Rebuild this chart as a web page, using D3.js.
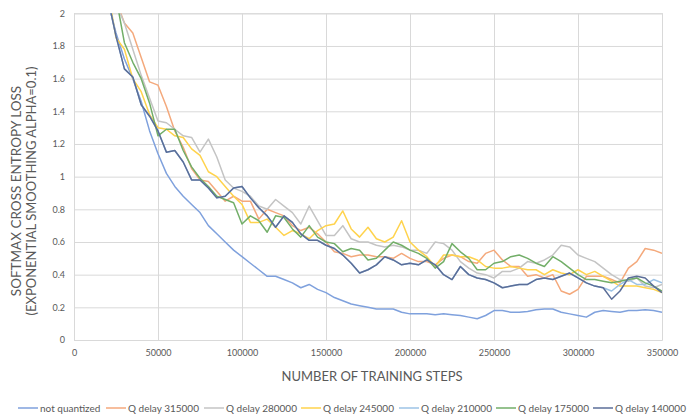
<!DOCTYPE html>
<html>
<head>
<meta charset="utf-8">
<script src="https://cdn.jsdelivr.net/npm/d3@7"></script>
<style>
  body { margin: 0; background: #fff; }
  svg text { font-family: Lato, "Open Sans", sans-serif; fill: #595959; }
</style>
</head>
<body>
<svg id="chart" width="691" height="418"></svg>
<script>
// training steps sampled every 5000
var steps = d3.range(20000, 350001, 5000);

var notQuantized = [
  2.08, 1.88, 1.72, 1.60, 1.46, 1.28, 1.14, 1.02, 0.94, 0.88,
  0.83, 0.78, 0.70, 0.65, 0.60, 0.55, 0.51, 0.47, 0.43, 0.39,
  0.39, 0.37, 0.35, 0.32, 0.34, 0.31, 0.29, 0.26, 0.24, 0.22,
  0.21, 0.20, 0.19, 0.19, 0.19, 0.17, 0.16, 0.16, 0.16, 0.155,
  0.16, 0.155, 0.15, 0.14, 0.13, 0.15, 0.18, 0.18, 0.17, 0.17,
  0.175, 0.185, 0.19, 0.19, 0.17, 0.16, 0.15, 0.14, 0.17, 0.18,
  0.175, 0.17, 0.18, 0.18, 0.185, 0.18, 0.17
];
var qDelay315000 = [
  2.40, 2.08, 1.94, 1.88, 1.73, 1.58, 1.56, 1.43, 1.28, 1.18,
  1.05, 0.98, 0.97, 0.91, 0.85, 0.88, 0.85, 0.85, 0.74, 0.80,
  0.78, 0.76, 0.70, 0.67, 0.69, 0.65, 0.60, 0.54, 0.53, 0.51,
  0.52, 0.52, 0.51, 0.51, 0.50, 0.53, 0.50, 0.48, 0.48, 0.46,
  0.50, 0.52, 0.51, 0.48, 0.47, 0.53, 0.55, 0.49, 0.45, 0.45,
  0.39, 0.40, 0.38, 0.40, 0.30, 0.28, 0.31, 0.39, 0.39, 0.39,
  0.37, 0.35, 0.44, 0.48, 0.56, 0.55, 0.53
];
var qDelay280000 = [
  2.30, 2.06, 1.94, 1.78, 1.62, 1.48, 1.34, 1.33, 1.29, 1.25,
  1.24, 1.15, 1.23, 1.12, 0.98, 0.93, 0.91, 0.88, 0.82, 0.80,
  0.86, 0.82, 0.78, 0.71, 0.82, 0.73, 0.64, 0.64, 0.70, 0.62,
  0.60, 0.60, 0.58, 0.57, 0.58, 0.57, 0.55, 0.55, 0.53, 0.60,
  0.59, 0.55, 0.48, 0.44, 0.41, 0.40, 0.38, 0.42, 0.42, 0.44,
  0.48, 0.47, 0.49, 0.52, 0.58, 0.57, 0.52, 0.50, 0.48, 0.44,
  0.40, 0.37, 0.36, 0.38, 0.33, 0.32, 0.34
];
var qDelay245000 = [
  2.15, 1.85, 1.78, 1.60, 1.52, 1.38, 1.30, 1.29, 1.25, 1.24,
  1.17, 1.13, 1.03, 1.00, 0.94, 0.88, 0.83, 0.72, 0.72, 0.74,
  0.69, 0.64, 0.67, 0.65, 0.62, 0.67, 0.70, 0.71, 0.79, 0.68,
  0.63, 0.69, 0.62, 0.60, 0.63, 0.73, 0.60, 0.55, 0.51, 0.45,
  0.52, 0.52, 0.51, 0.51, 0.49, 0.45, 0.44, 0.44, 0.45, 0.44,
  0.43, 0.43, 0.40, 0.43, 0.41, 0.40, 0.43, 0.40, 0.42, 0.39,
  0.36, 0.33, 0.33, 0.33, 0.32, 0.31, 0.29
];
var qDelay210000 = [
  2.10, 1.86, 1.66, 1.61, 1.44, 1.37, 1.28, 1.15, 1.16, 1.09,
  0.98, 0.98, 0.93, 0.87, 0.88, 0.93, 0.94, 0.87, 0.81, 0.76,
  0.69, 0.76, 0.72, 0.65, 0.61, 0.61, 0.58, 0.56, 0.52, 0.47,
  0.41, 0.43, 0.46, 0.51, 0.49, 0.46, 0.47, 0.46, 0.49, 0.46,
  0.40, 0.37, 0.45, 0.40, 0.38, 0.37, 0.35, 0.32, 0.33, 0.34,
  0.34, 0.37, 0.38, 0.37, 0.39, 0.41, 0.38, 0.35, 0.33, 0.32,
  0.30, 0.34, 0.37, 0.34, 0.34, 0.37, 0.35
];
var qDelay175000 = [
  2.40, 2.10, 1.82, 1.70, 1.60, 1.45, 1.25, 1.29, 1.29, 1.16,
  1.06, 0.99, 0.94, 0.88, 0.86, 0.84, 0.71, 0.76, 0.73, 0.66,
  0.76, 0.75, 0.68, 0.63, 0.70, 0.63, 0.60, 0.59, 0.54, 0.56,
  0.55, 0.49, 0.50, 0.55, 0.60, 0.58, 0.55, 0.53, 0.50, 0.44,
  0.48, 0.59, 0.54, 0.50, 0.43, 0.43, 0.47, 0.48, 0.51, 0.52,
  0.50, 0.47, 0.45, 0.51, 0.48, 0.44, 0.40, 0.37, 0.37, 0.36,
  0.35, 0.36, 0.37, 0.38, 0.35, 0.33, 0.30
];
var qDelay140000 = [
  2.10, 1.86, 1.66, 1.61, 1.44, 1.37, 1.28, 1.15, 1.16, 1.09,
  0.98, 0.98, 0.93, 0.87, 0.88, 0.93, 0.94, 0.87, 0.81, 0.76,
  0.69, 0.76, 0.72, 0.65, 0.61, 0.61, 0.58, 0.56, 0.52, 0.47,
  0.41, 0.43, 0.46, 0.51, 0.49, 0.46, 0.47, 0.46, 0.49, 0.46,
  0.40, 0.37, 0.45, 0.40, 0.38, 0.37, 0.35, 0.32, 0.33, 0.34,
  0.34, 0.37, 0.38, 0.37, 0.39, 0.41, 0.38, 0.35, 0.33, 0.32,
  0.25, 0.30, 0.38, 0.39, 0.38, 0.33, 0.29
];

var seriesNames = ["not quantized", "Q delay 315000", "Q delay 280000", "Q delay 245000",
                   "Q delay 210000", "Q delay 175000", "Q delay 140000"];
var seriesValues = [notQuantized, qDelay315000, qDelay280000, qDelay245000,
                    qDelay210000, qDelay175000, qDelay140000];
var seriesColors = ["#7fa1dd", "#f4a97c", "#c4c4c4", "#ffd34d", "#9dc3e6", "#72ae68", "#5b6e98"];

var xTicks = [0, 50000, 100000, 150000, 200000, 250000, 300000, 350000];
var yTicks = [0, 0.2, 0.4, 0.6, 0.8, 1, 1.2, 1.4, 1.6, 1.8, 2];

(function() {
    var svg = d3.select("#chart"),
        plotLeft = 74, plotRight = 662, plotTop = 13.3, plotBottom = 340;

    var x = d3.scaleLinear().domain([0, 350000]).range([plotLeft, plotRight]);
    var y = d3.scaleLinear().domain([0, 2]).range([plotBottom, plotTop]);

    //gridlines
    svg.append("g")
        .attr("transform", "translate(0," + plotBottom + ")")
        .call(d3.axisBottom(x).tickValues(xTicks).tickSize(-(plotBottom - plotTop)).tickFormat(d3.format("d")))
        .call(function(g) {
            g.select(".domain").attr("stroke", "#d9d9d9");
            g.selectAll(".tick line").attr("stroke", "#d9d9d9");
            g.selectAll(".tick text").attr("y", 10).attr("font-size", 9).attr("fill", "#595959");
        });

    svg.append("g")
        .attr("transform", "translate(" + plotLeft + ",0)")
        .call(d3.axisLeft(y).tickValues(yTicks).tickSize(-(plotRight - plotLeft)).tickFormat(function(d) { return String(+d.toFixed(1)); }))
        .call(function(g) {
            g.select(".domain").attr("stroke", "#d9d9d9");
            g.selectAll(".tick line").attr("stroke", "#d9d9d9");
            g.selectAll(".tick text").attr("x", -9).attr("font-size", 9).attr("fill", "#595959");
        });

    svg.selectAll(".tick text").attr("font-family", "Lato, sans-serif");

    svg.append("clipPath").attr("id", "plotclip")
        .append("rect")
        .attr("x", plotLeft).attr("y", plotTop)
        .attr("width", plotRight - plotLeft).attr("height", plotBottom - plotTop);

    var line = d3.line()
        .x(function(d, i) { return x(steps[i]); })
        .y(function(d) { return y(d); });

    svg.append("g").attr("clip-path", "url(#plotclip)")
        .selectAll("path")
        .data(seriesValues)
        .enter().append("path")
        .attr("d", line)
        .attr("fill", "none")
        .attr("stroke", function(d, i) { return seriesColors[i]; })
        .attr("stroke-width", 1.5)
        .attr("stroke-linejoin", "round");

    // axis titles
    svg.append("text")
        .attr("x", 372).attr("y", 381)
        .attr("text-anchor", "middle")
        .attr("font-size", 13)
        .text("NUMBER OF TRAINING STEPS");

    var yTitle = svg.append("text")
        .attr("transform", "translate(16,191) rotate(-90)")
        .attr("text-anchor", "middle")
        .attr("font-size", 13);
    yTitle.append("tspan").attr("x", 0).attr("dy", "0.35em").attr("font-size", 13.5).text("SOFTMAX CROSS ENTROPY LOSS");
    yTitle.append("tspan").attr("x", 0).attr("dy", 15.7).text("(EXPONENTIAL SMOOTHING ALPHA=0.1)");

    // legend
    var legendX = [18, 106, 204, 301, 399, 496, 593];
    var legend = svg.append("g").selectAll("g")
        .data(seriesNames)
        .enter().append("g")
        .attr("transform", function(d, i) { return "translate(" + legendX[i] + ",408)"; });

    legend.append("line")
        .attr("x1", 0).attr("x2", 20)
        .attr("stroke", function(d, i) { return seriesColors[i]; })
        .attr("stroke-width", 1.5);

    legend.append("text")
        .attr("x", 22).attr("dy", "0.35em")
        .attr("font-size", 10)
        .text(function(d) { return d; });
})();
</script>
</body>
</html>
